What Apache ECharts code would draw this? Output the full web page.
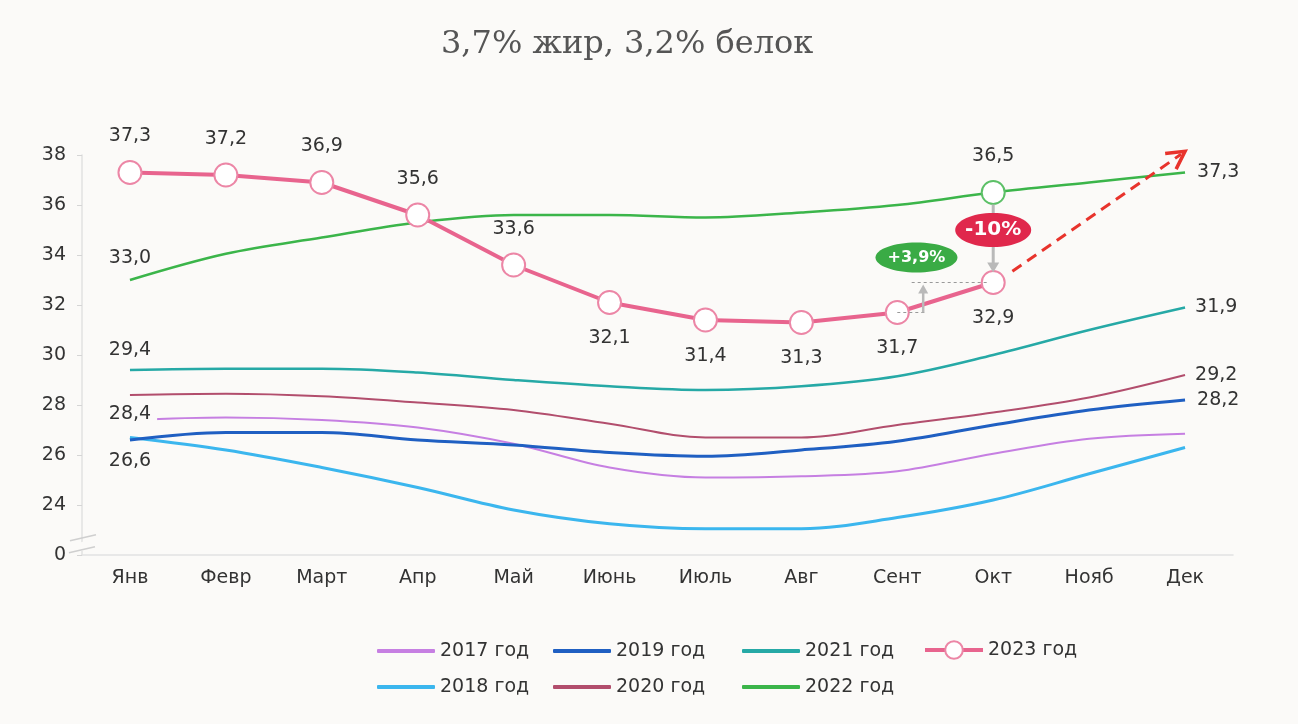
<!DOCTYPE html>
<html><head><meta charset="utf-8">
<script src="https://cdn.jsdelivr.net/npm/echarts@6/dist/echarts.min.js"></script>
<style>html,body{margin:0;padding:0;background:#fbfaf8}#c{width:1298px;height:724px}</style>
</head><body><div id="c"></div>
<script>
const months = ['Янв','Февр','Март','Апр','Май','Июнь','Июль','Авг','Сент','Окт','Нояб','Дек'];
const yTicks = [22,24,26,28,30,32,34,36,38];
const y2017 = [27.4,27.5,27.4,27.1,26.45,25.5,25.1,25.15,25.35,26.05,26.65,26.85];
const y2018 = [26.7,26.2,25.5,24.7,23.8,23.25,23.05,23.05,23.5,24.2,25.25,26.3];
const y2019 = [26.6,26.9,26.9,26.6,26.4,26.1,25.95,26.2,26.55,27.2,27.8,28.2];
const y2020 = [28.4,28.45,28.35,28.1,27.8,27.25,26.7,26.7,27.2,27.7,28.3,29.2];
const y2021 = [29.4,29.45,29.45,29.3,29.0,28.75,28.6,28.75,29.15,30.0,31.0,31.9];
const y2022 = [33.0,34.05,34.7,35.3,35.6,35.6,35.5,35.7,36.0,36.5,36.9,37.3];
const y2023 = [37.3,37.2,36.9,35.6,33.6,32.1,31.4,31.3,31.7,32.9,null,null];
const annDown = '-10%';
const annUp = '+3,9%';

const BG = '#fbfaf8';
const FONT = 'DejaVu Sans';
const PINK = '#e8648e';
const fmt = v => v.toFixed(1).replace('.', ',');
const lbl = (pos, extra) => Object.assign({show:true, position:pos, distance:12, formatter:p=>fmt(p.value), color:'#333', fontSize:19, fontFamily:FONT}, extra||{});
function mark(arr, idx, pos, extra, itemExtra) {
  return arr.map((v,i) => idx.indexOf(i) >= 0 ? Object.assign({value:v, symbol:'circle', symbolSize:0, label:lbl(pos[idx.indexOf(i)], extra)}, itemExtra && itemExtra[i] ? itemExtra[i] : {}) : v);
}
function lineSeries(name, data, color, width, z) {
  return {name, type:'line', data, smooth:0.35, symbol:'none', z:z||2,
    lineStyle:{color, width}, itemStyle:{color}, emphasis:{disabled:true}};
}
const last = months.length - 1;
const s2023 = {
  name:'2023 год', type:'line', z:10, smooth:false,
  data: y2023.map((v,i) => v == null ? null : {value:v, label:lbl(i < 5 ? 'top' : 'bottom', {distance:14})}),
  symbol:'emptyCircle', symbolSize:23,
  lineStyle:{color:PINK, width:4},
  itemStyle:{color:'#ec86a6', borderWidth:1.5},
  emphasis:{disabled:true}
};
const series = [
  lineSeries('2017 год', y2017, '#c67fe2', 2),
  lineSeries('2018 год', y2018, '#3bb6ee', 3),
  lineSeries('2019 год', mark(y2019, [0,last], ['bottom','right'], {distance:12}), '#1f5fc2', 3),
  lineSeries('2020 год', mark(y2020, [0,last], ['bottom','right'], {distance:8}), '#b24e6d', 2),
  lineSeries('2021 год', mark(y2021, [0,last], ['top','right'], {distance:10}), '#26a9a6', 2.5),
  lineSeries('2022 год', mark(y2022, [0,9,last], ['top','top','right'], {distance:12},
    {9:{symbol:'emptyCircle', symbolSize:23, itemStyle:{color:'#5cc067', borderWidth:1.5}}}), '#3bb54a', 2.5),
  s2023
];
series[5].data[9].label.distance = 14;
series[3].data[0].label.backgroundColor = BG;
series[3].data[0].label.padding = [2,6];
series[3].data[last].label.distance = 10;
const legendBase = {orient:'vertical', top:636, itemWidth:58, itemHeight:4, itemGap:16, itemTextGap:10,
  icon:'roundRect',
  textStyle:{fontSize:19, fontFamily:FONT, color:'#333', lineHeight:20}, selectedMode:false};
const leg4 = Object.assign({}, legendBase, {left:918, top:635, itemHeight:22, lineStyle:{width:4}, data:['2023 год']});
delete leg4.icon;
const option = {
  backgroundColor: BG,
  animation:false,
  title:{text:'3,7% жир, 3,2% белок', left:436, top:24, textStyle:{fontFamily:'DejaVu Serif', fontSize:32, fontWeight:'normal', color:'#555'}},
  legend:[
    Object.assign({}, legendBase, {left:372, data:['2017 год','2018 год']}),
    Object.assign({}, legendBase, {left:548, data:['2019 год','2020 год']}),
    Object.assign({}, legendBase, {left:737, data:['2021 год','2022 год']}),
    leg4
  ],
  grid:{left:82, right:65, top:155, bottom:169, containLabel:false},
  xAxis:{type:'category', data:months, boundaryGap:true,
    axisLine:{lineStyle:{color:'#e2e2e2', width:1.5}}, axisTick:{show:false},
    axisLabel:{color:'#333', fontSize:19, fontFamily:FONT, margin:14}},
  yAxis:{type:'value', min:yTicks[0], max:yTicks[yTicks.length-1], interval:2,
    splitLine:{show:false},
    axisLine:{show:true, lineStyle:{color:'#e2e2e2', width:1.5}},
    axisTick:{show:true, length:5, lineStyle:{color:'#d5d5d5'}},
    axisLabel:{color:'#333', fontSize:19, fontFamily:FONT, margin:16, formatter:v => v === yTicks[0] ? '0' : String(v)}},
  series
};
const chart = echarts.init(document.getElementById('c'));
chart.setOption(option);

function X(i) {
  const a = chart.convertToPixel({xAxisIndex:0}, months[0]);
  const b = chart.convertToPixel({xAxisIndex:0}, months[1]);
  return a + (b - a) * i;
}
function Y(v) { return chart.convertToPixel({yAxisIndex:0}, v); }
const gray = '#b9b9b9';
const g = [];
// break marks on the y axis
const ax = chart.convertToPixel({xAxisIndex:0}, months[0]) - (X(1) - X(0)) / 2;
const yb = Y(22.45);
g.push({type:'polygon', shape:{points:[[ax-12,yb+1],[ax+14,yb-5],[ax+14,yb+5],[ax-12,yb+9]]}, style:{fill:BG}, z:50});
g.push({type:'line', shape:{x1:ax-12, y1:yb+1-4, x2:ax+14, y2:yb-5-4}, style:{stroke:'#cfcfcf', lineWidth:1.5}, z:51});
g.push({type:'line', shape:{x1:ax-13, y1:yb+9, x2:ax+13, y2:yb+3}, style:{stroke:'#cfcfcf', lineWidth:1.5}, z:51});
// down arrow 2022 -> 2023 (Oct)
const xo = X(9);
const yTop = Y(y2022[9]) + 12, yBot = Y(y2023[9]) - 10;
g.push({type:'line', shape:{x1:xo, y1:yTop, x2:xo, y2:yBot-8}, style:{stroke:gray, lineWidth:3}, z:40});
g.push({type:'polygon', shape:{points:[[xo-6,yBot-10],[xo+6,yBot-10],[xo,yBot]]}, style:{fill:gray}, z:40});
// dashed guides
const xs = X(8.27);
g.push({type:'line', shape:{x1:X(8.15), y1:Y(y2023[9]), x2:xo-4, y2:Y(y2023[9])}, style:{stroke:'#999', lineWidth:1.2, lineDash:[3,3]}, z:40});
g.push({type:'line', shape:{x1:X(8), y1:Y(y2023[8]), x2:X(8.3), y2:Y(y2023[8])}, style:{stroke:'#999', lineWidth:1.2, lineDash:[3,3]}, z:40});
// up arrow
g.push({type:'line', shape:{x1:xs, y1:Y(y2023[8]), x2:xs, y2:Y(y2023[9])+10}, style:{stroke:gray, lineWidth:2.5}, z:40});
g.push({type:'polygon', shape:{points:[[xs-5,Y(y2023[9])+11],[xs+5,Y(y2023[9])+11],[xs,Y(y2023[9])+2]]}, style:{fill:gray}, z:40});
// badges
g.push({type:'ellipse', shape:{cx:xo, cy:Y(35.0), rx:38, ry:17}, style:{fill:'#e0284c'}, z:45});
g.push({type:'text', x:xo, y:Y(35.0), style:{text:annDown, fill:'#fff', font:'bold 20px "DejaVu Sans"', align:'center', verticalAlign:'middle'}, z:46});
g.push({type:'ellipse', shape:{cx:X(8.2), cy:Y(33.9), rx:41, ry:15}, style:{fill:'#3aab45'}, z:45});
g.push({type:'text', x:X(8.2), y:Y(33.9), style:{text:annUp, fill:'#fff', font:'bold 16px "DejaVu Sans"', align:'center', verticalAlign:'middle'}, z:46});
// red dashed trend arrow
const ax1 = X(9.2), ay1 = Y(33.35), ax2 = X(11), ay2 = Y(38.15);
g.push({type:'line', shape:{x1:ax1, y1:ay1, x2:ax2-4, y2:ay2+3}, style:{stroke:'#e8332c', lineWidth:3, lineDash:[11,7]}, z:40});
const ang = Math.atan2(ay2-ay1, ax2-ax1), L = 20;
g.push({type:'polyline', shape:{points:[
  [ax2 - L*Math.cos(ang-0.5), ay2 - L*Math.sin(ang-0.5)], [ax2, ay2],
  [ax2 - L*Math.cos(ang+0.5), ay2 - L*Math.sin(ang+0.5)]]}, style:{stroke:'#e8332c', lineWidth:3.5, fill:null}, z:40});
chart.setOption({graphic:g});
</script></body></html>
